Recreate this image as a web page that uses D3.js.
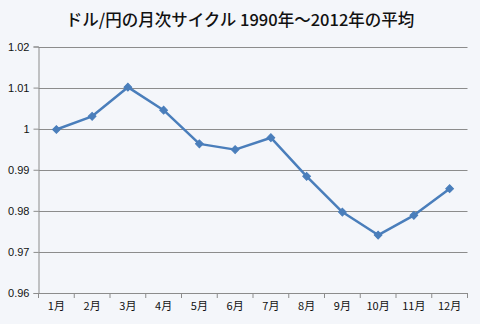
<!DOCTYPE html>
<html><head><meta charset="utf-8">
<script src="https://cdn.jsdelivr.net/npm/d3@7/dist/d3.min.js"></script>
<style>
html,body{margin:0;padding:0;background:#f4f6fa;}
svg{display:block;}
text{font-family:"Noto Sans CJK JP","Noto Sans",sans-serif;fill:#111;}
</style></head>
<body><svg id="c" width="480" height="324"></svg>
<script>
const title = "ドル/円の月次サイクル 1990年～2012年の平均";
const months = ["1月","2月","3月","4月","5月","6月","7月","8月","9月","10月","11月","12月"];
const values = [0.9998,1.0030,1.0101,1.0045,0.9963,0.9949,0.9978,0.9884,0.9797,0.9741,0.9789,0.9854];
const yTicks = [0.96,0.97,0.98,0.99,1,1.01,1.02];

const svg = d3.select("#c");
const W = 480, H = 324;
const m = {left:38.5, right:12.5, top:46.5, bottom:31};
svg.append("rect").attr("width",W).attr("height",H).attr("fill","#f4f6fa");

const x = d3.scaleBand().domain(months).range([m.left, W-m.right]);
const y = d3.scaleLinear().domain([0.96,1.02]).range([H-m.bottom, m.top]);

svg.append("text").attr("x",240).attr("y",26).attr("text-anchor","middle")
  .style("font-size","16.5px").style("font-weight","500").text(title);

// gridlines
svg.append("g").selectAll("line").data(yTicks.slice(1)).join("line")
  .attr("x1",m.left).attr("x2",W-m.right)
  .attr("y1",d=>Math.round(y(d))+0.5).attr("y2",d=>Math.round(y(d))+0.5)
  .attr("stroke","#8c8c8c").attr("stroke-width",1);

// y axis
const ya = svg.append("g").attr("transform",`translate(${m.left},0)`)
  .call(d3.axisLeft(y).tickValues(yTicks).tickFormat(d=>d3.format("")(+d.toFixed(2))).tickSize(5).tickPadding(4));
ya.select(".domain").attr("stroke","#8c8c8c");
ya.selectAll(".tick line").attr("stroke","#8c8c8c");
ya.selectAll("text").style("font-size","11px").style("font-family","Liberation Sans, sans-serif").attr("fill","#111");

// x axis
const xa = svg.append("g").attr("transform",`translate(0,${H-m.bottom})`)
  .call(d3.axisBottom(x).tickSize(0).tickPadding(9));
xa.select(".domain").attr("stroke","#8c8c8c");
xa.selectAll("text").style("font-size","11px").attr("fill","#111");
// boundary ticks
const bounds = months.map(d=>x(d)).concat([x(months[11])+x.bandwidth()]);
xa.selectAll(".bt").data(bounds).join("line").attr("class","bt")
  .attr("x1",d=>d).attr("x2",d=>d).attr("y1",0).attr("y2",5).attr("stroke","#8c8c8c");

const cx = d=>x(d)+x.bandwidth()/2;
const line = d3.line().x((d,i)=>cx(months[i])).y(d=>y(d));
svg.append("path").datum(values).attr("d",line).attr("fill","none")
  .attr("stroke","#4a7ebb").attr("stroke-width",2.5).attr("stroke-linejoin","round");
svg.append("g").selectAll("path").data(values).join("path")
  .attr("d",d3.symbol(d3.symbolSquare,30))
  .attr("transform",(d,i)=>`translate(${cx(months[i])},${y(d)}) rotate(45)`)
  .attr("fill","#4a7ebb").attr("stroke","#4a7ebb");
</script></body></html>
